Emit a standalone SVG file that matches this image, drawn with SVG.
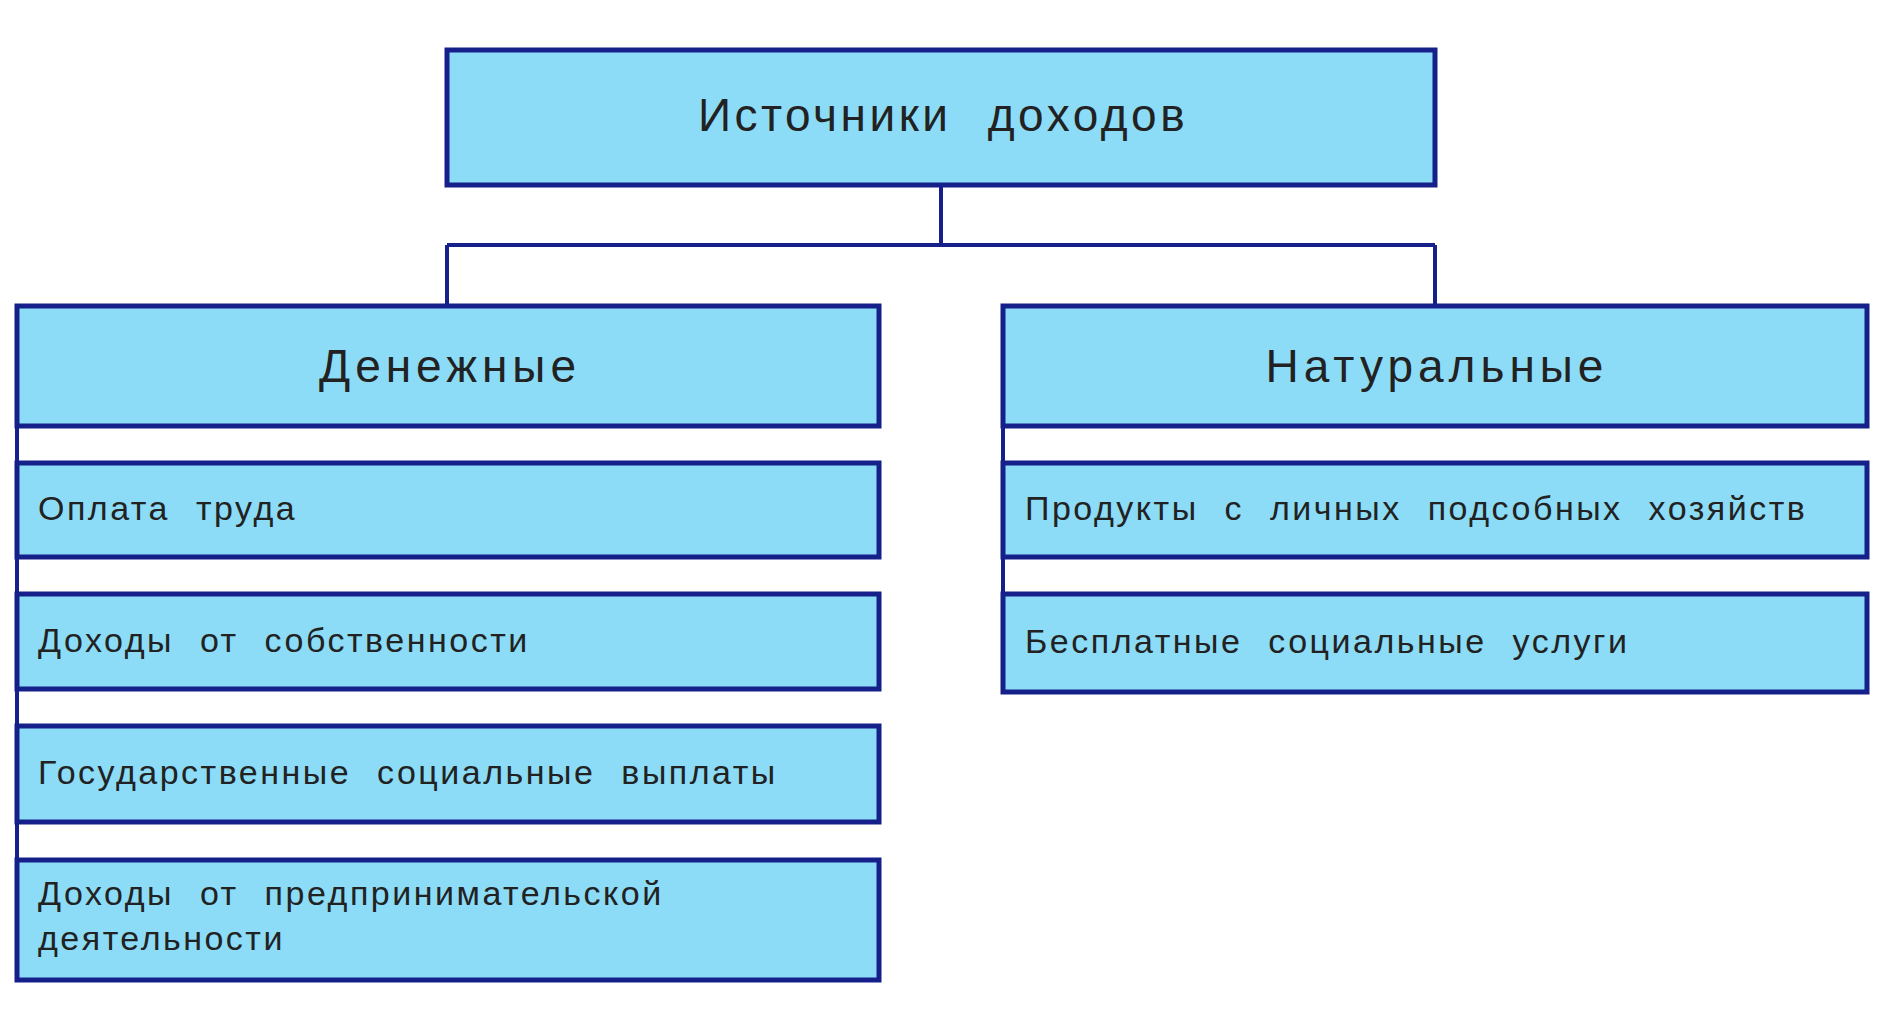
<svg xmlns="http://www.w3.org/2000/svg" width="1885" height="1025" viewBox="0 0 1885 1025">
<style>
.b{fill:#8cdcf7;stroke:#16208a;stroke-width:5}
.c{fill:none;stroke:#16208a;stroke-width:4}
text{font-family:"Liberation Sans",Arial,sans-serif;fill:#222}
.h{font-size:46px;text-anchor:middle;letter-spacing:5px}
.t{font-size:34px;letter-spacing:2.5px;word-spacing:14px}
</style>
<rect width="1885" height="1025" fill="#fff"/>
<g id="connectors">
<path class="c" d="M941 185V245M447 245H1435M447 245V306M1435 245V306M17 426V860M1003 426V594"/>
</g>
<g id="root"><rect class="b" x="447" y="50" width="988" height="135"/><text class="h" x="943" y="131" style="letter-spacing:3.5px;word-spacing:20px">Источники доходов</text></g>
<g id="money"><rect class="b" x="17" y="306" width="862" height="120"/><text class="h" x="450" y="382">Денежные</text></g>
<g id="natural"><rect class="b" x="1003" y="306" width="864" height="120"/><text class="h" x="1437" y="382">Натуральные</text></g>
<g id="m1"><rect class="b" x="17" y="463" width="862" height="94"/><text class="t" x="38" y="520">Оплата труда</text></g>
<g id="m2"><rect class="b" x="17" y="594" width="862" height="95"/><text class="t" x="38" y="652">Доходы от собственности</text></g>
<g id="m3"><rect class="b" x="17" y="726" width="862" height="96"/><text class="t" x="38" y="784">Государственные социальные выплаты</text></g>
<g id="m4"><rect class="b" x="17" y="860" width="862" height="120"/><text class="t" x="38" y="905">Доходы от предпринимательской</text><text class="t" x="38" y="950">деятельности</text></g>
<g id="n1"><rect class="b" x="1003" y="463" width="864" height="94"/><text class="t" x="1025" y="520">Продукты с личных подсобных хозяйств</text></g>
<g id="n2"><rect class="b" x="1003" y="594" width="864" height="98"/><text class="t" x="1025" y="653">Бесплатные социальные услуги</text></g>
</svg>
